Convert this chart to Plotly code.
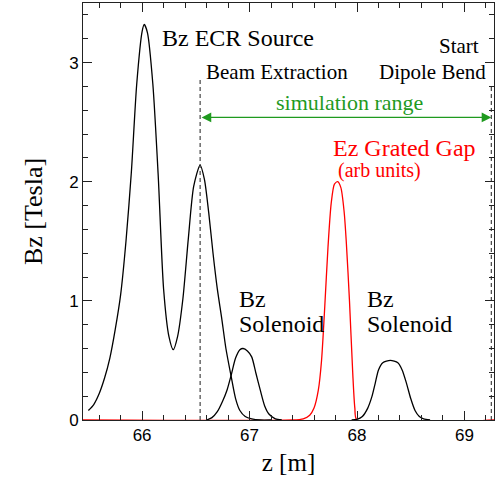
import plotly.graph_objects as go

# Axial field profiles along the beam line (z in metres)
ecr_z = [65.50, 65.55, 65.60, 65.65, 65.70, 65.75, 65.80, 65.85, 65.90, 65.95,
         66.00, 66.02, 66.05, 66.10, 66.15, 66.20, 66.25, 66.29, 66.33, 66.38,
         66.43, 66.48, 66.54, 66.58, 66.62, 66.66, 66.70, 66.74, 66.78, 66.83,
         66.87, 66.91, 66.96, 67.02, 67.10, 67.20]
ecr_bz = [0.08, 0.13, 0.22, 0.35, 0.52, 0.76, 1.05, 1.50, 2.08, 2.82,
          3.26, 3.32, 3.25, 2.82, 2.05, 1.10, 0.70, 0.59, 0.70, 1.02,
          1.52, 1.96, 2.14, 2.02, 1.74, 1.40, 1.10, 0.86, 0.60, 0.36,
          0.18, 0.08, 0.03, 0.01, 0.0, 0.0]

sol1_z = [66.60, 66.65, 66.70, 66.75, 66.79, 66.83, 66.87, 66.91, 66.94, 66.98,
          67.02, 67.06, 67.10, 67.14, 67.18, 67.24, 67.30]
sol1_bz = [0.0, 0.02, 0.07, 0.16, 0.25, 0.38, 0.52, 0.59, 0.60, 0.58,
           0.53, 0.39, 0.25, 0.12, 0.05, 0.01, 0.0]

sol2_z = [67.95, 68.00, 68.05, 68.10, 68.14, 68.17, 68.20, 68.24, 68.31, 68.38,
          68.42, 68.46, 68.50, 68.54, 68.58, 68.62, 68.68]
sol2_bz = [0.0, 0.005, 0.03, 0.10, 0.20, 0.31, 0.42, 0.48, 0.50, 0.48,
           0.42, 0.31, 0.18, 0.08, 0.03, 0.01, 0.0]

gap_z = [65.45, 67.40, 67.50, 67.56, 67.60, 67.64, 67.67, 67.70, 67.73, 67.76,
         67.79, 67.82, 67.85, 67.88, 67.90, 67.93, 67.96, 67.98, 68.00, 69.275]
gap_ez = [0.0, 0.0, 0.01, 0.04, 0.10, 0.25, 0.50, 0.95, 1.45, 1.82,
          1.98, 2.00, 1.95, 1.75, 1.50, 1.00, 0.40, 0.10, 0.0, 0.0]

# Markers for the simulated section
beam_extraction_z = 66.54
dipole_start_z = 69.25
extraction_top = 2.87
dipole_top = 2.81
sim_range_level = 2.54

x_ticks = [66, 67, 68, 69]
y_ticks = [0, 1, 2, 3]

SERIF = "Liberation Serif, Times New Roman, serif"
SANS = "Liberation Sans, Arial, sans-serif"
GREEN = "#1f9a1f"
RED = "#ff0000"
FRAME = "#222222"

fig = go.Figure()

curve = dict(width=1.3, shape="spline", smoothing=0.7)
fig.add_trace(go.Scatter(x=gap_z, y=gap_ez, mode="lines", line=dict(color=RED, **curve)))
fig.add_trace(go.Scatter(x=ecr_z, y=ecr_bz, mode="lines", line=dict(color="black", **curve)))
fig.add_trace(go.Scatter(x=sol1_z, y=sol1_bz, mode="lines", line=dict(color="black", **curve)))
fig.add_trace(go.Scatter(x=sol2_z, y=sol2_bz, mode="lines", line=dict(color="black", **curve)))

dashed = dict(color="#333333", width=1.1, dash="4px,3px")
fig.add_trace(go.Scatter(x=[beam_extraction_z, beam_extraction_z], y=[0, extraction_top],
                         mode="lines", line=dashed))
fig.add_trace(go.Scatter(x=[dipole_start_z, dipole_start_z], y=[0, dipole_top],
                         mode="lines", line=dashed))

# Double-headed arrow marking the simulation range
fig.add_annotation(x=dipole_start_z, y=sim_range_level, ax=beam_extraction_z, ay=sim_range_level,
                   xref="x", yref="y", axref="x", ayref="y", text="", showarrow=True,
                   arrowside="end+start", arrowhead=2, arrowsize=1.6, arrowwidth=1.2,
                   arrowcolor=GREEN, standoff=0, startstandoff=0)


def label(text, x, y, size, color="black", xanchor="left"):
    fig.add_annotation(x=x, y=y, xref="x", yref="y", text=text, showarrow=False,
                       xanchor=xanchor, yanchor="middle",
                       font=dict(family=SERIF, size=size, color=color))


label("Bz ECR Source", 66.165, 3.21, 24)
label("Beam Extraction", 66.577, 2.92, 21)
label("Start", 68.744, 3.14, 21)
label("Dipole Bend", 69.219, 2.92, 21, xanchor="right")
label("simulation range", 67.93, 2.665, 22, color=GREEN, xanchor="center")
label("Ez Grated Gap", 67.755, 2.28, 24, color=RED)
label("(arb units)", 67.80, 2.095, 20, color=RED)
label("Bz", 66.886, 1.014, 24)
label("Solenoid", 66.886, 0.805, 24)
label("Bz", 68.074, 1.014, 24)
label("Solenoid", 68.074, 0.805, 24)

fig.update_xaxes(range=[65.45, 69.275], tickvals=x_ticks, ticks="inside", ticklen=9,
                 tickwidth=1, tickcolor=FRAME, showline=True, linecolor=FRAME, linewidth=1,
                 mirror="ticks", showgrid=False, zeroline=False,
                 minor=dict(dtick=0.2, ticks="inside", ticklen=5, tickwidth=1, tickcolor=FRAME),
                 tickfont=dict(family=SANS, size=17, color="black"),
                 title=dict(text="z [m]", font=dict(family=SERIF, size=25, color="black"), standoff=9))
fig.update_yaxes(range=[0, 3.5], tickvals=y_ticks, ticks="inside", ticklen=9,
                 tickwidth=1, tickcolor=FRAME, showline=True, linecolor=FRAME, linewidth=1,
                 mirror="ticks", showgrid=False, zeroline=False,
                 minor=dict(dtick=0.2, ticks="inside", ticklen=5, tickwidth=1, tickcolor=FRAME),
                 tickfont=dict(family=SANS, size=17, color="black"),
                 title=dict(text="Bz [Tesla]", font=dict(family=SERIF, size=26, color="black"), standoff=19))

fig.update_layout(width=496, height=481, showlegend=False,
                  margin=dict(l=83, r=2, t=3, b=61),
                  plot_bgcolor="white", paper_bgcolor="white")

fig.write_html("out.html")
